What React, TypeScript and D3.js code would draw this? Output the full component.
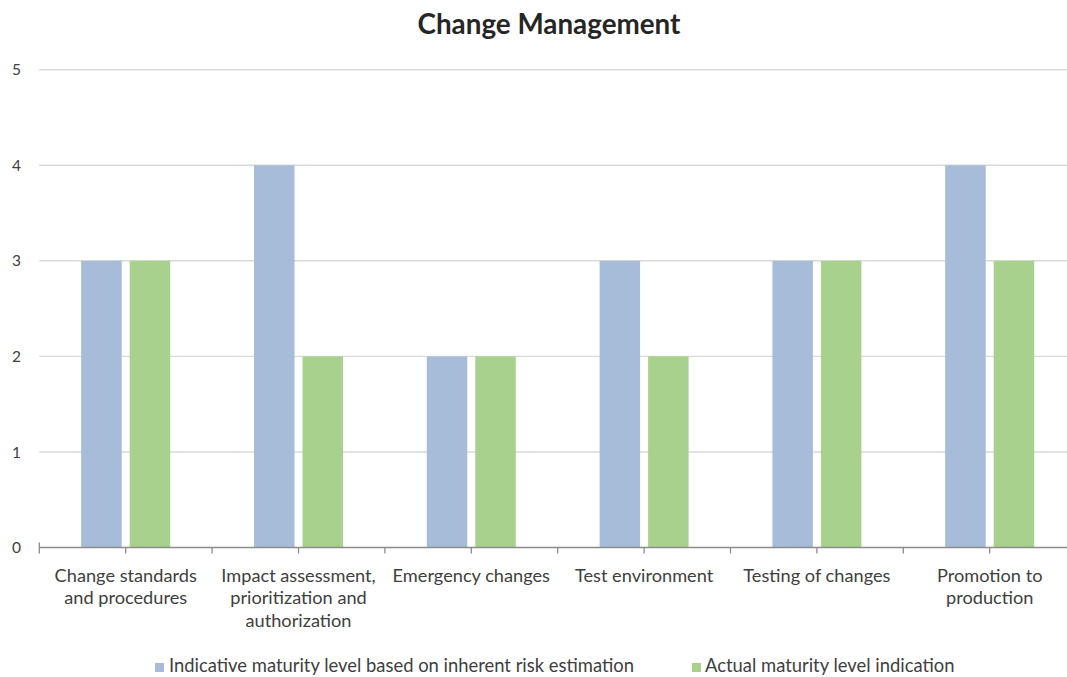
import React from "react";
import * as d3 from "d3";

const W = 1067;
const H = 677;

const categories = [
  "Change standards and procedures",
  "Impact assessment, prioritization and authorization",
  "Emergency changes",
  "Test environment",
  "Testing of changes",
  "Promotion to production",
];

// wrapped lines for each category label
const categoryLines = [
  ["Change standards", "and procedures"],
  ["Impact assessment,", "prioritization and", "authorization"],
  ["Emergency changes"],
  ["Test environment"],
  ["Testing of changes"],
  ["Promotion to", "production"],
];

const seriesNames = [
  "Indicative maturity level based on inherent risk estimation",
  "Actual maturity level indication",
];
const indicativeValues = [3, 4, 2, 3, 3, 4];
const actualValues = [3, 2, 2, 2, 3, 3];
const yTicks = [0, 1, 2, 3, 4, 5];

const colors = ["#a6bcd8", "#a9d18e"];
const FONT = "Lato, 'Open Sans', sans-serif";

export default function App() {
  const plotLeft = 39.3;
  const step = 172.8;
  const x = d3
    .scaleBand<string>()
    .domain(categories)
    .range([plotLeft, plotLeft + step * categories.length])
    .paddingInner(0.485)
    .paddingOuter(0.2425);
  const x1 = d3
    .scaleBand<number>()
    .domain([0, 1])
    .range([0, x.bandwidth()])
    .paddingInner(0.165);
  const y = d3.scaleLinear().domain([0, 5]).range([547.5, 69.7]);

  const series = [indicativeValues, actualValues];
  const tickXs = d3.range(categories.length * 2 + 1).map((i) => plotLeft + (i * step) / 2);

  return (
    <svg
      width={W}
      height={H}
      style={{ position: "absolute", left: 0, top: 0, background: "#fff" }}
      fontFamily={FONT}
    >
      <text
        x={549}
        y={34}
        textAnchor="middle"
        fontSize={27.8}
        fontWeight={700}
        fill="#262626"
      >
        Change Management
      </text>

      {/* gridlines and y labels */}
      {yTicks.map((t) => (
        <g key={t}>
          {t > 0 && (
            <line x1={plotLeft} x2={W} y1={y(t)} y2={y(t)} stroke="#d9d9d9" strokeWidth={1.4} />
          )}
          <text x={21} y={y(t)} dy="0.36em" textAnchor="end" fontSize={15.5} fill="#404040">
            {t}
          </text>
        </g>
      ))}

      {/* bars */}
      {series.map((vals, si) =>
        vals.map((v, ci) => (
          <rect
            key={`${si}-${ci}`}
            x={(x(categories[ci]) as number) + (x1(si) as number)}
            y={y(v)}
            width={x1.bandwidth()}
            height={y(0) - y(v)}
            fill={colors[si]}
          />
        ))
      )}

      {/* category axis */}
      <line x1={plotLeft} x2={W} y1={y(0)} y2={y(0)} stroke="#8c8c8c" strokeWidth={1.3} />
      {tickXs.map((tx, i) => (
        <line key={i} x1={tx} x2={tx} y1={y(0) - (i === 0 ? 5 : 0)} y2={y(0) + 6} stroke="#8c8c8c" strokeWidth={1.3} />
      ))}
      {categories.map((c, ci) => {
        const cx = (x(c) as number) + x.bandwidth() / 2;
        return (
          <text key={c} textAnchor="middle" fontSize={18.2} fill="#404040">
            {categoryLines[ci].map((line, li) => (
              <tspan key={li} x={cx} y={581.7 + li * 22.5}>
                {line}
              </tspan>
            ))}
          </text>
        );
      })}

      {/* legend */}
      <rect x={155} y={663} width={9} height={9} fill={colors[0]} />
      <text x={169} y={672} fontSize={18.4} fill="#404040">
        {seriesNames[0]}
      </text>
      <rect x={692} y={663} width={9} height={9} fill={colors[1]} />
      <text x={705} y={672} fontSize={18.4} fill="#404040">
        {seriesNames[1]}
      </text>
    </svg>
  );
}
